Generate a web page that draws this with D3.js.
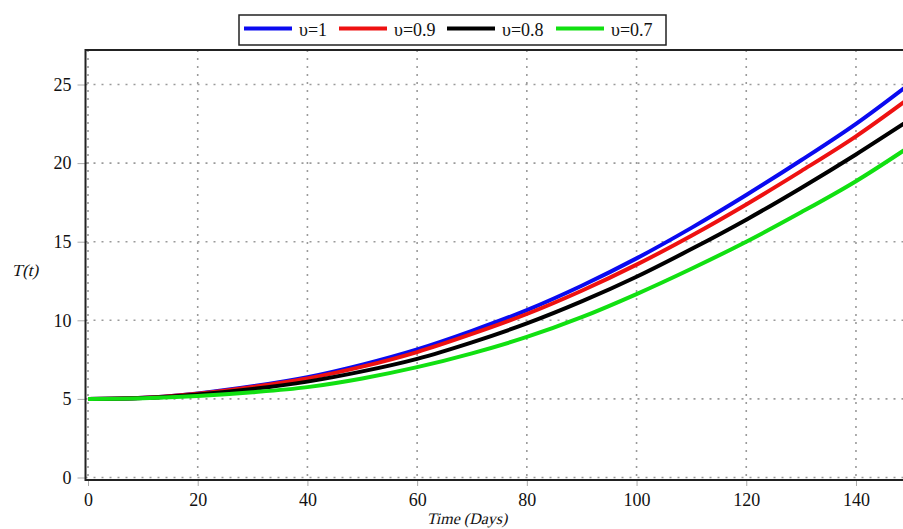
<!DOCTYPE html>
<html>
<head>
<meta charset="utf-8">
<script src="https://cdn.jsdelivr.net/npm/d3@7"></script>
<style>
  html, body { margin: 0; padding: 0; background: #fff; overflow: hidden; }
  svg { display: block; }
</style>
</head>
<body>
<svg id="chart" width="903" height="529"></svg>
<script>
// ---- data ----
const days = [0, 10, 20, 30, 40, 50, 60, 70, 80, 90, 100, 110, 120, 130, 140, 150];
const seriesNames = ["υ=1", "υ=0.9", "υ=0.8", "υ=0.7"];
const seriesColors = ["#0a0af0", "#ee1111", "#000000", "#11e011"];
const tV1  = [5.0, 5.07, 5.35, 5.8, 6.38, 7.18, 8.15, 9.33, 10.65, 12.2, 13.94, 15.88, 17.97, 20.18, 22.5, 25.1];
const tV09 = [5.0, 5.067, 5.33, 5.76, 6.3, 7.05, 7.98, 9.13, 10.4, 11.88, 13.54, 15.38, 17.37, 19.49, 21.7, 24.2];
const tV08 = [5.0, 5.055, 5.28, 5.63, 6.1, 6.75, 7.55, 8.6, 9.8, 11.2, 12.77, 14.53, 16.4, 18.42, 20.55, 22.8];
const tV07 = [5.0, 5.04, 5.18, 5.42, 5.75, 6.3, 7.02, 7.9, 8.94, 10.2, 11.67, 13.28, 15.0, 16.87, 18.85, 21.1];
const xTicks = [0, 20, 40, 60, 80, 100, 120, 140];
const yTicks = [0, 5, 10, 15, 20, 25];
const allSeries = [tV1, tV09, tV08, tV07];

const FONT = "'Liberation Serif'";
const FS = 18;

// ---- layout ----
const svg = d3.select("#chart");
const x = d3.scaleLinear().domain([0, 150]).range([88, 88 + 150 * 5.4855]);
const y = d3.scaleLinear().domain([0, 25]).range([477.5, 477.5 - 25 * 15.72]);
const frameLeft = 85.5, frameTop = 50, frameBottom = 480, frameRight = 903;

svg.append("defs").append("clipPath").attr("id", "plotclip")
  .append("rect").attr("x", frameLeft).attr("y", frameTop)
  .attr("width", frameRight - frameLeft).attr("height", frameBottom - frameTop);

// gridlines
const grid = svg.append("g").attr("clip-path", "url(#plotclip)");
grid.selectAll("line.vg").data(xTicks).join("line")
  .attr("x1", d => x(d)).attr("x2", d => x(d))
  .attr("y1", frameTop).attr("y2", frameBottom)
  .attr("stroke", "#9a9a9a").attr("stroke-width", 1.6)
  .attr("stroke-dasharray", "2,6");
grid.selectAll("line.hg").data(yTicks).join("line")
  .attr("y1", d => y(d)).attr("y2", d => y(d))
  .attr("x1", frameLeft).attr("x2", frameRight)
  .attr("stroke", "#9a9a9a").attr("stroke-width", 1.6)
  .attr("stroke-dasharray", "2,6");

// axes
const yAxis = svg.append("g").attr("transform", `translate(${frameLeft},0)`)
  .call(d3.axisLeft(y).tickValues(yTicks).tickSize(8).tickPadding(6).tickFormat(d3.format("d")));
yAxis.select(".domain").remove();
yAxis.attr("font-family", FONT).attr("font-size", FS);
yAxis.selectAll(".tick line").attr("stroke", "#aaa").attr("stroke-width", 1);
yAxis.selectAll(".tick text").attr("font-family", FONT).attr("font-size", FS).attr("fill", "#111");

const xAxis = svg.append("g").attr("transform", `translate(0,${frameBottom})`)
  .call(d3.axisBottom(x).tickValues(xTicks).tickSize(6).tickPadding(7).tickFormat(d3.format("d")));
xAxis.select(".domain").remove();
xAxis.attr("font-family", FONT).attr("font-size", FS);
xAxis.selectAll(".tick line").attr("stroke", "#aaa").attr("stroke-width", 1);
xAxis.selectAll(".tick text").attr("font-family", FONT).attr("font-size", FS).attr("fill", "#111");

// curves
const line = d3.line().x((d, i) => x(days[i])).y(d => y(d)).curve(d3.curveCatmullRom.alpha(0.5));
const curves = svg.append("g").attr("clip-path", "url(#plotclip)");
allSeries.forEach((s, i) => {
  curves.append("path").datum(s).attr("d", line)
    .attr("fill", "none").attr("stroke", seriesColors[i])
    .attr("stroke-width", 4);
});

// frame
svg.append("path")
  .attr("d", `M${frameRight},${frameTop}H${frameLeft}V${frameBottom}H${frameRight}`)
  .attr("fill", "none").attr("stroke", "#222").attr("stroke-width", 2);

// axis titles (serif with slanted transform for italic look)
function slantLabel(px, py, size, str) {
  svg.append("g").attr("transform", `translate(${px},${py}) skewX(-13)`)
    .append("text").attr("x", 0).attr("y", 0).attr("text-anchor", "middle")
    .attr("font-family", FONT).attr("font-size", size)
    .attr("fill", "#111").text(str);
}
slantLabel(25, 276, 17, "T(t)");
slantLabel(467, 524, 16, "Time (Days)");

// legend
const lg = svg.append("g");
lg.append("rect").attr("x", 239).attr("y", 15).attr("width", 427).attr("height", 30)
  .attr("fill", "#fff").attr("stroke", "#222").attr("stroke-width", 1.5);
const entryX = [244, 339, 447, 556];
seriesNames.forEach((name, i) => {
  lg.append("line").attr("x1", entryX[i]).attr("x2", entryX[i] + 48)
    .attr("y1", 28.5).attr("y2", 28.5)
    .attr("stroke", seriesColors[i]).attr("stroke-width", 4);
  lg.append("text").attr("x", entryX[i] + 55).attr("y", 36)
    .attr("font-family", FONT).attr("font-size", FS)
    .attr("fill", "#111").text(name);
});
</script>
</body>
</html>
